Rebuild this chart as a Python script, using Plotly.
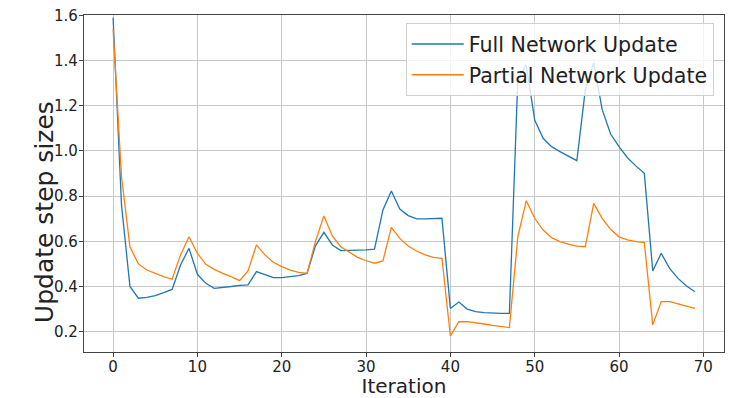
import plotly.graph_objects as go

iterations = list(range(70))

full_update = [
    1.59, 0.76, 0.40, 0.348, 0.352, 0.36, 0.373, 0.387, 0.495, 0.569,
    0.454, 0.414, 0.392, 0.395, 0.40, 0.405, 0.407, 0.466, 0.454, 0.439,
    0.439, 0.444, 0.448, 0.458, 0.58, 0.64, 0.584, 0.559, 0.559, 0.562,
    0.562, 0.565, 0.739, 0.823, 0.743, 0.714, 0.699, 0.699, 0.699, 0.702,
    0.303, 0.331, 0.30, 0.289, 0.284, 0.281, 0.281, 0.281, 1.32, 1.38,
    1.137, 1.056, 1.019, 0.997, 0.978, 0.957, 1.27, 1.39, 1.184, 1.075,
    1.019, 0.97, 0.934, 0.901, 0.469, 0.547, 0.48, 0.436, 0.402, 0.377,
]

partial_update = [
    1.54, 0.886, 0.576, 0.50, 0.473, 0.458, 0.444, 0.432, 0.54, 0.62,
    0.547, 0.498, 0.476, 0.458, 0.444, 0.426, 0.469, 0.584, 0.54, 0.507,
    0.488, 0.473, 0.463, 0.458, 0.60, 0.712, 0.624, 0.576, 0.551, 0.529,
    0.514, 0.503, 0.513, 0.662, 0.613, 0.579, 0.557, 0.54, 0.529, 0.525,
    0.181, 0.244, 0.244, 0.24, 0.234, 0.228, 0.222, 0.218, 0.62, 0.78,
    0.702, 0.65, 0.616, 0.599, 0.588, 0.579, 0.576, 0.768, 0.702, 0.653,
    0.62, 0.606, 0.599, 0.594, 0.23, 0.333, 0.333, 0.323, 0.314, 0.303,
]

x_ticks = [0, 10, 20, 30, 40, 50, 60, 70]
y_ticks = [0.2, 0.4, 0.6, 0.8, 1.0, 1.2, 1.4, 1.6]

fig = go.Figure()
fig.add_trace(go.Scatter(x=iterations, y=full_update, mode="lines",
                         name="Full Network Update", legendgroup="full",
                         line=dict(color="#1f77b4", width=1.3)))
fig.add_trace(go.Scatter(x=iterations, y=partial_update, mode="lines",
                         name="Partial Network Update", legendgroup="partial",
                         line=dict(color="#ff7f0e", width=1.3)))

font_family = "DejaVu Sans"
axis_common = dict(
    showline=True, mirror=True, linecolor="#444444", linewidth=1.2,
    ticks="outside", ticklen=4, tickcolor="#444444", tickwidth=1,
    showgrid=True, gridcolor="#c8c8c8", gridwidth=1.1,
    zeroline=False, automargin=False,
    tickfont=dict(family=font_family, size=15, color="#222222"),
)

fig.update_layout(
    width=732, height=398,
    margin=dict(l=84, r=8, t=15, b=46),
    paper_bgcolor="white", plot_bgcolor="white",
    font=dict(family=font_family, color="#222222"),
    xaxis=dict(range=[-3.45, 72.45], tickvals=x_ticks, ticklabelstandoff=-3,
               title=dict(text="Iteration", font=dict(size=20, family=font_family),
                          standoff=0),
               **axis_common),
    yaxis=dict(range=[0.11, 1.602], tickvals=y_ticks, tickformat=".1f",
               ticklabelstandoff=-2,
               **axis_common),
    legend=dict(x=0.984, y=0.976, xanchor="right", yanchor="top",
                bgcolor="rgba(255,255,255,0.8)", bordercolor="#d0d0d0", borderwidth=1,
                itemwidth=52, tracegroupgap=1,
                font=dict(family=font_family, size=20.6, color="#222222")),
    showlegend=True,
    annotations=[dict(text="Update step sizes", textangle=-90,
                      xref="paper", yref="paper", x=-0.0625, y=0.415,
                      xanchor="center", yanchor="middle", showarrow=False,
                      font=dict(family=font_family, size=25, color="#222222"))],
)

# Remove the default 8px page margin so the figure sits at the window's top-left.
fig.write_html("out.html", config={"displayModeBar": False},
               post_script="document.body.style.margin='0';")
